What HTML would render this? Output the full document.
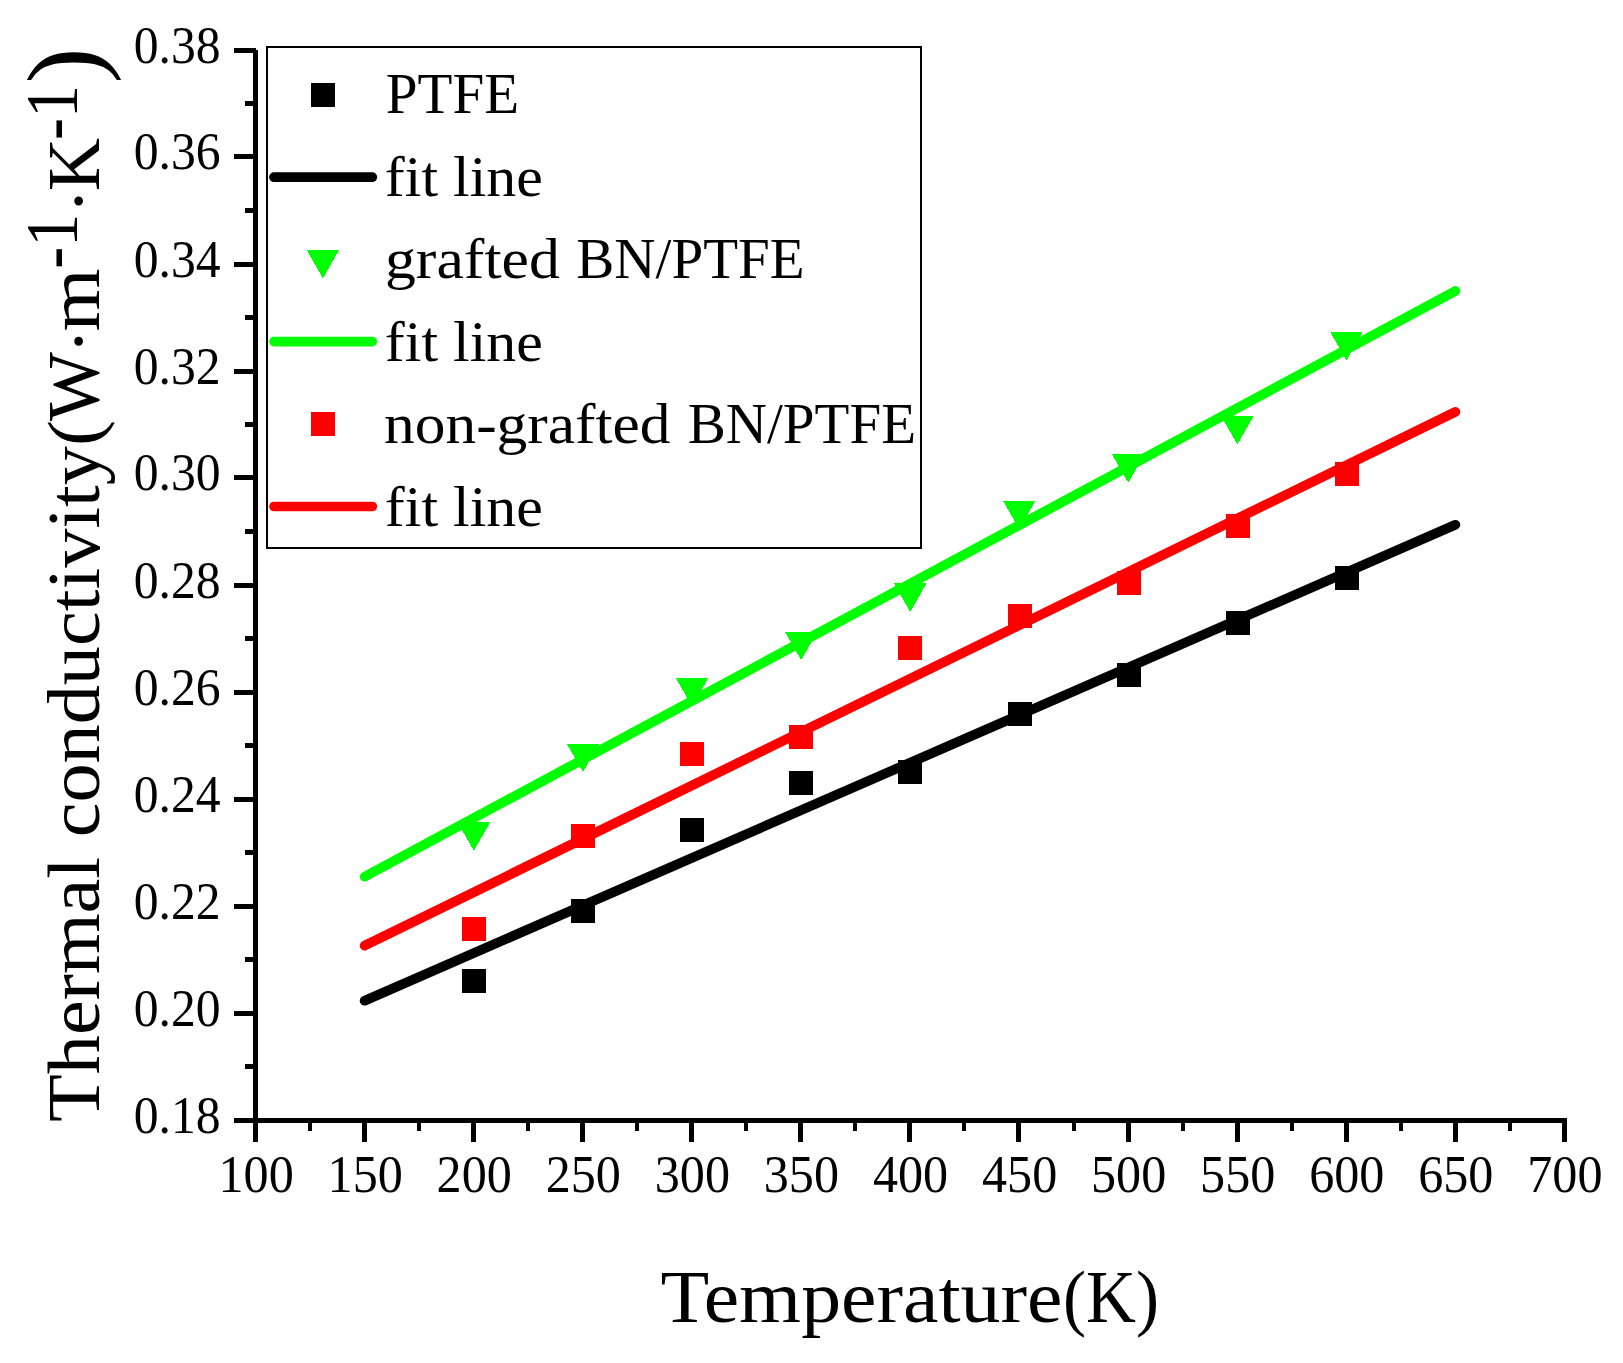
<!DOCTYPE html>
<html lang="en"><head><meta charset="utf-8"><title>Thermal conductivity vs Temperature</title>
<style>html,body{margin:0;padding:0;background:#fff}body{width:1623px;height:1363px;overflow:hidden}svg{display:block}text{font-family:'Liberation Serif', 'DejaVu Serif', serif;fill:#000}</style>
</head><body>
<svg width="1623" height="1363" viewBox="0 0 1623 1363">
<rect x="0" y="0" width="1623" height="1363" fill="#fff"/>
<g fill="#000" shape-rendering="crispEdges">
<rect x="253" y="50" width="5" height="1073"/>
<rect x="253" y="1118" width="1314" height="5"/>
<rect x="234" y="1118" width="20" height="5"/>
<rect x="245" y="1064" width="9" height="5"/>
<rect x="234" y="1011" width="20" height="5"/>
<rect x="245" y="957" width="9" height="5"/>
<rect x="234" y="904" width="20" height="5"/>
<rect x="245" y="850" width="9" height="5"/>
<rect x="234" y="797" width="20" height="5"/>
<rect x="245" y="743" width="9" height="5"/>
<rect x="234" y="690" width="20" height="5"/>
<rect x="245" y="636" width="9" height="5"/>
<rect x="234" y="583" width="20" height="5"/>
<rect x="245" y="529" width="9" height="5"/>
<rect x="234" y="475" width="20" height="5"/>
<rect x="245" y="422" width="9" height="5"/>
<rect x="234" y="369" width="20" height="5"/>
<rect x="245" y="315" width="9" height="5"/>
<rect x="234" y="262" width="20" height="5"/>
<rect x="245" y="208" width="9" height="5"/>
<rect x="234" y="154" width="20" height="5"/>
<rect x="245" y="101" width="9" height="5"/>
<rect x="234" y="48" width="22" height="5"/>
<rect x="253" y="1122" width="5" height="20"/>
<rect x="308" y="1122" width="4" height="9"/>
<rect x="362" y="1122" width="5" height="20"/>
<rect x="417" y="1122" width="4" height="9"/>
<rect x="471" y="1122" width="5" height="20"/>
<rect x="526" y="1122" width="4" height="9"/>
<rect x="580" y="1122" width="5" height="20"/>
<rect x="635" y="1122" width="4" height="9"/>
<rect x="689" y="1122" width="5" height="20"/>
<rect x="744" y="1122" width="4" height="9"/>
<rect x="798" y="1122" width="5" height="20"/>
<rect x="853" y="1122" width="4" height="9"/>
<rect x="907" y="1122" width="5" height="20"/>
<rect x="962" y="1122" width="4" height="9"/>
<rect x="1016" y="1122" width="5" height="20"/>
<rect x="1072" y="1122" width="4" height="9"/>
<rect x="1126" y="1122" width="5" height="20"/>
<rect x="1181" y="1122" width="4" height="9"/>
<rect x="1235" y="1122" width="5" height="20"/>
<rect x="1290" y="1122" width="4" height="9"/>
<rect x="1344" y="1122" width="5" height="20"/>
<rect x="1399" y="1122" width="4" height="9"/>
<rect x="1453" y="1122" width="5" height="20"/>
<rect x="1508" y="1122" width="4" height="9"/>
<rect x="1562" y="1122" width="5" height="20"/>
</g>
<g font-size="48">
<text transform="translate(220.6 1132.7) scale(1.035 1.100)" text-anchor="end">0.18</text>
<text transform="translate(220.6 1025.7) scale(1.035 1.100)" text-anchor="end">0.20</text>
<text transform="translate(220.6 918.7) scale(1.035 1.100)" text-anchor="end">0.22</text>
<text transform="translate(220.6 811.7) scale(1.035 1.100)" text-anchor="end">0.24</text>
<text transform="translate(220.6 704.7) scale(1.035 1.100)" text-anchor="end">0.26</text>
<text transform="translate(220.6 597.7) scale(1.035 1.100)" text-anchor="end">0.28</text>
<text transform="translate(220.6 489.7) scale(1.035 1.100)" text-anchor="end">0.30</text>
<text transform="translate(220.6 383.7) scale(1.035 1.100)" text-anchor="end">0.32</text>
<text transform="translate(220.6 276.7) scale(1.035 1.100)" text-anchor="end">0.34</text>
<text transform="translate(220.6 168.7) scale(1.035 1.100)" text-anchor="end">0.36</text>
<text transform="translate(220.6 62.7) scale(1.035 1.100)" text-anchor="end">0.38</text>
<text transform="translate(256.1 1191.9) scale(1.045 1.100)" text-anchor="middle">100</text>
<text transform="translate(365.2 1191.9) scale(1.045 1.100)" text-anchor="middle">150</text>
<text transform="translate(474.2 1191.9) scale(1.045 1.100)" text-anchor="middle">200</text>
<text transform="translate(583.3 1191.9) scale(1.045 1.100)" text-anchor="middle">250</text>
<text transform="translate(692.4 1191.9) scale(1.045 1.100)" text-anchor="middle">300</text>
<text transform="translate(801.4 1191.9) scale(1.045 1.100)" text-anchor="middle">350</text>
<text transform="translate(910.5 1191.9) scale(1.045 1.100)" text-anchor="middle">400</text>
<text transform="translate(1019.6 1191.9) scale(1.045 1.100)" text-anchor="middle">450</text>
<text transform="translate(1128.6 1191.9) scale(1.045 1.100)" text-anchor="middle">500</text>
<text transform="translate(1237.7 1191.9) scale(1.045 1.100)" text-anchor="middle">550</text>
<text transform="translate(1346.8 1191.9) scale(1.045 1.100)" text-anchor="middle">600</text>
<text transform="translate(1455.8 1191.9) scale(1.045 1.100)" text-anchor="middle">650</text>
<text transform="translate(1564.9 1191.9) scale(1.045 1.100)" text-anchor="middle">700</text>
</g>
<text x="660.5" y="1321.5" font-size="75" textLength="402" lengthAdjust="spacingAndGlyphs">Temperature</text>
<text x="1063" y="1321.5" font-size="75" textLength="96" lengthAdjust="spacingAndGlyphs">(K)</text>
<g transform="translate(99 1121) rotate(-90)" font-size="75">
<text x="-1" y="0" textLength="702" lengthAdjust="spacingAndGlyphs">Thermal conductivity(</text>
<text x="700" y="0" textLength="69" lengthAdjust="spacingAndGlyphs">W</text>
<text x="767.2" y="3.5">·</text>
<text x="789.6" y="0" textLength="63" lengthAdjust="spacingAndGlyphs">m</text>
<text x="852.3" y="-22.5" textLength="55" lengthAdjust="spacingAndGlyphs">-1</text>
<text x="907.5" y="3.5">·</text>
<text x="930" y="0" textLength="53" lengthAdjust="spacingAndGlyphs">K</text>
<text x="981" y="-22.5" textLength="55" lengthAdjust="spacingAndGlyphs">-1</text>
<text transform="translate(1037.5 -0.2) scale(1.04 1.0)" font-size="104">)</text>
</g>
<g shape-rendering="crispEdges">
<rect x="462.1" y="968.7" width="24" height="24" fill="#000"/>
<rect x="571.2" y="898.8" width="24" height="24" fill="#000"/>
<rect x="680.3" y="817.8" width="24" height="24" fill="#000"/>
<rect x="789.3" y="770.9" width="24" height="24" fill="#000"/>
<rect x="898.4" y="759.6" width="24" height="24" fill="#000"/>
<rect x="1007.5" y="702.0" width="24" height="24" fill="#000"/>
<rect x="1116.5" y="663.0" width="24" height="24" fill="#000"/>
<rect x="1225.6" y="610.6" width="24" height="24" fill="#000"/>
<rect x="1334.7" y="565.9" width="24" height="24" fill="#000"/>
<rect x="462.1" y="917.2" width="24" height="24" fill="#f00"/>
<rect x="571.2" y="823.7" width="24" height="24" fill="#f00"/>
<rect x="680.3" y="741.8" width="24" height="24" fill="#f00"/>
<rect x="789.3" y="725.0" width="24" height="24" fill="#f00"/>
<rect x="898.4" y="635.8" width="24" height="24" fill="#f00"/>
<rect x="1007.5" y="603.6" width="24" height="24" fill="#f00"/>
<rect x="1116.5" y="571.4" width="24" height="24" fill="#f00"/>
<rect x="1225.6" y="513.7" width="24" height="24" fill="#f00"/>
<rect x="1334.7" y="462.2" width="24" height="24" fill="#f00"/>
<polygon points="457.7,822.3 490.2,822.3 473.9,850.8" fill="#0f0"/>
<polygon points="566.8,743.5 599.2,743.5 583.0,772.0" fill="#0f0"/>
<polygon points="675.8,677.9 708.3,677.9 692.1,706.4" fill="#0f0"/>
<polygon points="784.9,631.5 817.4,631.5 801.1,660.0" fill="#0f0"/>
<polygon points="893.9,583.4 926.4,583.4 910.2,611.9" fill="#0f0"/>
<polygon points="1003.0,500.7 1035.5,500.7 1019.3,529.2" fill="#0f0"/>
<polygon points="1112.1,454.3 1144.6,454.3 1128.3,482.8" fill="#0f0"/>
<polygon points="1221.1,415.9 1253.6,415.9 1237.4,444.4" fill="#0f0"/>
<polygon points="1330.2,331.8 1362.7,331.8 1346.5,360.3" fill="#0f0"/>
</g>
<g stroke-width="9.7" stroke-linecap="round" fill="none">
<line x1="364.6" y1="1000.7" x2="1455.4" y2="524.8" stroke="#000"/>
<line x1="364.6" y1="945.7" x2="1455.4" y2="411.8" stroke="#f00"/>
<line x1="364.6" y1="876.7" x2="1455.4" y2="290.9" stroke="#0f0"/>
</g>
<rect x="267.3" y="47.3" width="654" height="500.9" fill="#fff" stroke="#000" stroke-width="2.2" shape-rendering="crispEdges"/>
<g shape-rendering="crispEdges">
<rect x="311.0" y="82.5" width="24" height="24" fill="#000"/>
<polygon points="306.6,249.9 339.1,249.9 322.9,278.4" fill="#0f0"/>
<rect x="311.0" y="412.0" width="24" height="24" fill="#f00"/>
</g>
<g stroke-width="9.7" stroke-linecap="round">
<line x1="274" y1="177.2" x2="372.3" y2="177.2" stroke="#000"/>
<line x1="274" y1="341.6" x2="372.3" y2="341.6" stroke="#0f0"/>
<line x1="274" y1="506.5" x2="372.3" y2="506.5" stroke="#f00"/>
</g>
<g font-size="58">
<text x="385.8" y="113.3" textLength="133.3" lengthAdjust="spacingAndGlyphs">PTFE</text>
<text x="384.8" y="195.8" textLength="158.0" lengthAdjust="spacingAndGlyphs">fit line</text>
<text x="385.0" y="278.3" textLength="174.8" lengthAdjust="spacingAndGlyphs">grafted</text>
<text x="576.3" y="278.3" textLength="228.3" lengthAdjust="spacingAndGlyphs">BN/PTFE</text>
<text x="384.8" y="360.8" textLength="158.0" lengthAdjust="spacingAndGlyphs">fit line</text>
<text x="384.0" y="443.3" textLength="286.5" lengthAdjust="spacingAndGlyphs">non-grafted</text>
<text x="687.7" y="443.3" textLength="228.3" lengthAdjust="spacingAndGlyphs">BN/PTFE</text>
<text x="384.8" y="525.8" textLength="158.0" lengthAdjust="spacingAndGlyphs">fit line</text>
</g>
</svg>
</body></html>
